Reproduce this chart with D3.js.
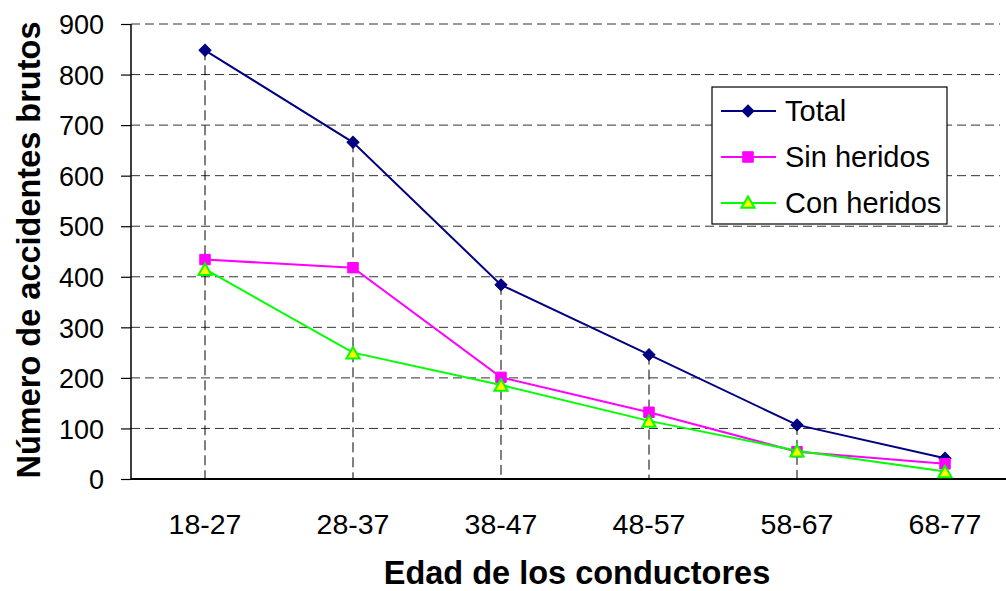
<!DOCTYPE html>
<html>
<head>
<meta charset="utf-8">
<script src="https://cdn.jsdelivr.net/npm/d3@7"></script>
<style>
body{margin:0;background:#fff;}
text{font-family:Arial,"Liberation Sans",sans-serif;fill:#000;}
</style>
</head>
<body>
<script>
var ages = ['18-27','28-37','38-47','48-57','58-67','68-77'];
var total = [848,666,384,246,107,41];
var sinHeridos = [434,418,201,132,54,30];
var conHeridos = [415,250,186,115,56,15];
var yTicks = [0,100,200,300,400,500,600,700,800,900];
var seriesNames = ['Total','Sin heridos','Con heridos'];

var series = [
  {name:seriesNames[0],values:total,color:'#000080',marker:'diamond'},
  {name:seriesNames[1],values:sinHeridos,color:'#ff00ff',marker:'square'},
  {name:seriesNames[2],values:conHeridos,color:'#00ff00',marker:'triangle'}
];

var svg = d3.select('body').append('svg').attr('width',1006).attr('height',591);

var x = d3.scaleBand().domain(ages).range([131,1019]);
var y = d3.scaleLinear().domain([0,900]).range([479,24]);
function cx(d){ return x(d)+x.bandwidth()/2; }

// horizontal grid
svg.append('g').selectAll('line').data(yTicks.filter(function(d){return d>0;})).enter().append('line')
  .attr('x1',131).attr('x2',1000)
  .attr('y1',function(d){return y(d);}).attr('y2',function(d){return y(d);})
  .style('stroke','#333').style('stroke-width',1).style('stroke-dasharray','9,5');

// drop lines from the highest point
svg.append('g').selectAll('line').data(ages).enter().append('line')
  .attr('x1',cx).attr('x2',cx)
  .attr('y1',function(d,i){return y(d3.max(series,function(s){return s.values[i];}));})
  .attr('y2',y(0))
  .style('stroke','#000').style('stroke-width',1).style('stroke-dasharray','10,5');

// y axis
var yAxis = svg.append('g').attr('transform','translate(131,0)')
  .call(d3.axisLeft(y).tickValues(yTicks).tickSize(10).tickPadding(17).tickFormat(d3.format('d')));
yAxis.select('.domain').attr('d','M0,'+y(900)+'V'+y(0)).style('stroke','#000').style('stroke-width',1.5);
yAxis.selectAll('.tick line').style('stroke','#000').style('stroke-width',1.2);
yAxis.selectAll('.tick text').style('font-size','27px').attr('dy','0.36em').style('font-family','Arial,"Liberation Sans",sans-serif');

// x axis
var xAxis = svg.append('g').attr('transform','translate(0,'+y(0)+')')
  .call(d3.axisBottom(x).tickSize(0).tickPadding(35));
xAxis.select('.domain').attr('d','M131,0H1006').style('stroke','#000').style('stroke-width',2);
xAxis.selectAll('.tick text').style('font-size','28.5px').style('font-family','Arial,"Liberation Sans",sans-serif');

// lines and markers
var line = d3.line().x(function(d,i){return cx(ages[i]);}).y(function(d){return y(d);});
var symbols = {diamond:d3.symbolSquare,square:d3.symbolSquare,triangle:d3.symbolTriangle};
var sizes = {diamond:72,square:110,triangle:75};

function drawMarker(g,s){
  var p = g.append('path').attr('d',d3.symbol().type(symbols[s.marker]).size(sizes[s.marker]));
  if (s.marker=='triangle'){
    p.style('fill','#ffff00').style('stroke',s.color).style('stroke-width',2);
  }else{
    p.style('fill',s.color).style('stroke',s.color).style('stroke-width',1);
  }
  if (s.marker=='diamond') p.attr('transform','rotate(45)');
  return p;
}

series.forEach(function(s){
  svg.append('path').datum(s.values).attr('d',line)
    .style('fill','none').style('stroke',s.color).style('stroke-width',2);
  s.values.forEach(function(v,i){
    var g = svg.append('g').attr('transform','translate('+cx(ages[i])+','+(y(v)+(s.marker=='triangle'?2:0))+')');
    drawMarker(g,s);
  });
});

// legend
var legend = svg.append('g').attr('transform','translate(712,87)');
legend.append('rect').attr('width',235).attr('height',137)
  .style('fill','#fff').style('stroke','#000').style('stroke-width',1.2);
series.forEach(function(s,i){
  var ly = 24+i*46;
  legend.append('line').attr('x1',9).attr('x2',64).attr('y1',ly).attr('y2',ly)
    .style('stroke',s.color).style('stroke-width',2);
  var g = legend.append('g').attr('transform','translate(36,'+(ly+(s.marker=='triangle'?1:0))+')');
  drawMarker(g,s);
  legend.append('text').attr('x',73).attr('y',ly).attr('dy','0.36em')
    .style('font-size','29px').text(s.name);
});

// axis titles
svg.append('text').attr('x',577).attr('y',584).attr('text-anchor','middle')
  .style('font-size','32.5px').style('font-weight','bold').text('Edad de los conductores');
svg.append('text').attr('transform','translate(40,250) rotate(-90)').attr('text-anchor','middle')
  .style('font-size','32.5px').style('font-weight','bold').text('Número de accidentes brutos');
</script>
</body>
</html>
